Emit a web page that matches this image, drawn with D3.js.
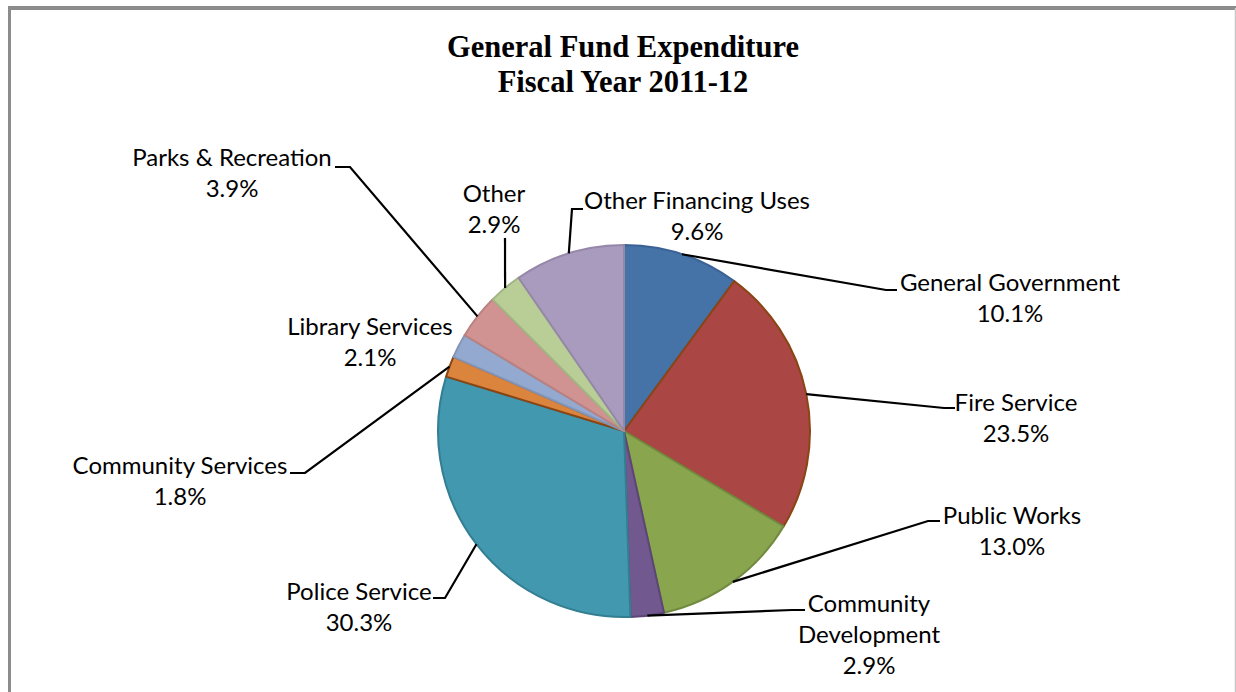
<!DOCTYPE html>
<html>
<head>
<meta charset="utf-8">
<script src="https://cdn.jsdelivr.net/npm/d3@7"></script>
<style>
  html, body { margin: 0; padding: 0; background: #fff; }
  svg { display: block; }
</style>
</head>
<body>
<svg id="chart" width="1236" height="692"></svg>
<script>
// ---- data ----
const titleLines = ["General Fund Expenditure", "Fiscal Year 2011-12"];
const categories = ["General Government", "Fire Service", "Public Works", "Community Development",
  "Police Service", "Community Services", "Library Services", "Parks & Recreation", "Other", "Other Financing Uses"];
const values = [10.1, 23.5, 13.0, 2.9, 30.3, 1.8, 2.1, 3.9, 2.9, 9.6];

// ---- styles ----
const fills = ["#4572A7", "#AA4643", "#89A54E", "#71588F", "#4198AF", "#DB843D", "#93A9CF", "#D19392", "#B9CD96", "#A99BBD"];
const strokes = ["#3A6294", "#8A4514", "#728A40", "#5B4676", "#347E92", "#8A4514", "#8396B8", "#B98180", "#A2B584", "#9587A8"];

// label layout (text lines as split, centre x, first baseline y, leader elbow & end)
const labelLayout = {
  "General Government":   { lines: ["General Government"], x: 1010, y: 291, elbow: [886, 290], end: [897, 290] },
  "Fire Service":         { lines: ["Fire Service"], x: 1016, y: 411, elbow: [944, 408], end: [955, 408] },
  "Public Works":         { lines: ["Public Works"], x: 1012, y: 524, elbow: [928, 521], end: [940, 521] },
  "Community Development":{ lines: ["Community", "Development"], x: 869, y: 612, elbow: [792, 610], end: [805, 610] },
  "Police Service":       { lines: ["Police Service"], x: 359, y: 600, elbow: [445, 598], end: [433, 598] },
  "Community Services":   { lines: ["Community Services"], x: 180, y: 474, elbow: [305, 473], end: [290, 473] },
  "Library Services":     { lines: ["Library Services"], x: 370, y: 335, elbow: null, end: null },
  "Parks & Recreation":   { lines: ["Parks & Recreation"], x: 232, y: 166, elbow: [350, 167], end: [335, 167] },
  "Other":                { lines: ["Other"], x: 494, y: 202, elbow: [505, 238], end: [505, 238] },
  "Other Financing Uses": { lines: ["Other Financing Uses"], x: 697, y: 209, elbow: [572, 209], end: [583, 209] }
};

const svg = d3.select("#chart");
const W = 1236, H = 692;
const cx = 624, cy = 431, R = 186;
const lineH = 31;

// chart border
svg.append("line").attr("x1", 8).attr("x2", W).attr("y1", 8).attr("y2", 8)
  .attr("stroke", "#8c8c8c").attr("stroke-width", 4);
svg.append("line").attr("x1", 9.5).attr("x2", 9.5).attr("y1", 6).attr("y2", H)
  .attr("stroke", "#8c8c8c").attr("stroke-width", 3);
svg.append("line").attr("x1", 1235.5).attr("x2", 1235.5).attr("y1", 8).attr("y2", H)
  .attr("stroke", "#c8c8c8").attr("stroke-width", 1.5);

// title
const title = svg.append("text")
  .attr("text-anchor", "middle")
  .attr("font-family", "'Liberation Serif', 'Times New Roman', serif")
  .attr("font-weight", "bold")
  .attr("font-size", 30.5)
  .attr("fill", "#000");
title.selectAll("tspan").data(titleLines).join("tspan")
  .attr("x", 623).attr("y", (d, i) => 57 + i * 35).text(d => d);

// pie
const data = categories.map((c, i) => ({ name: c, value: values[i], i }));
const pie = d3.pie().value(d => d.value).sort(null);
const arcs = pie(data);
const arc = d3.arc().innerRadius(0).outerRadius(R);
const edgeArc = d3.arc().innerRadius(R).outerRadius(R);

const g = svg.append("g").attr("transform", `translate(${cx},${cy})`);
g.selectAll("path.slice").data(arcs).join("path")
  .attr("class", "slice")
  .attr("d", arc)
  .attr("fill", d => fills[d.data.i])
  .attr("stroke", d => strokes[d.data.i])
  .attr("stroke-width", 2)
  .attr("stroke-linejoin", "round");

// leader lines
arcs.forEach(a => {
  const L = labelLayout[a.data.name];
  if (!L.elbow) return;
  const [ex, ey] = edgeArc.centroid(a);
  const pts = [[cx + ex, cy + ey], L.elbow, L.end];
  svg.append("path")
    .attr("d", d3.line()(pts))
    .attr("fill", "none")
    .attr("stroke", "#000")
    .attr("stroke-width", 2.2);
});

// labels
const fmt = d => d3.format(".1f")(d) + "%";
arcs.forEach(a => {
  const L = labelLayout[a.data.name];
  const lines = L.lines.concat([fmt(a.data.value)]);
  const t = svg.append("text")
    .attr("text-anchor", "middle")
    .attr("font-family", "Lato, 'Open Sans', sans-serif")
    .attr("font-size", 24)
    .attr("fill", "#000");
  t.selectAll("tspan").data(lines).join("tspan")
    .attr("x", L.x).attr("y", (d, i) => L.y + i * lineH).text(d => d);
});
</script>
</body>
</html>
